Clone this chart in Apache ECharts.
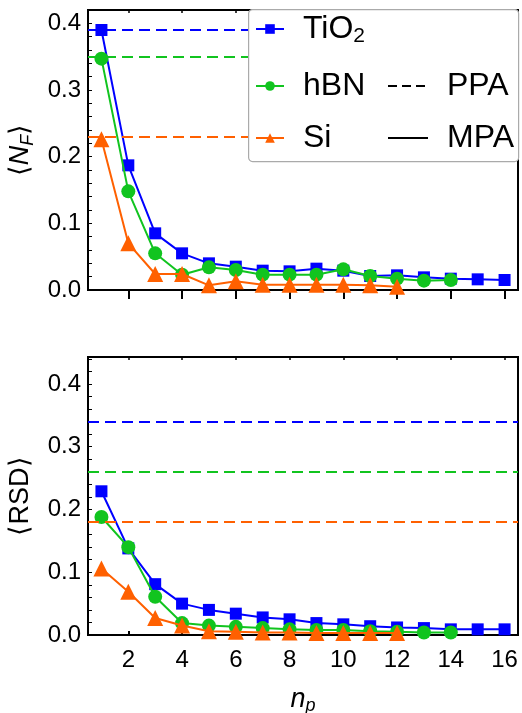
<!DOCTYPE html>
<html>
<head>
<meta charset="utf-8">
<script src="https://cdn.jsdelivr.net/npm/echarts@6/dist/echarts.min.js"></script>
<style>
html,body{margin:0;padding:0;background:#fff;}
#chart{width:522px;height:713px;}
</style>
</head>
<body>
<div id="chart"></div>
<script>
// ---- data ----
var materials = ['TiO2', 'hBN', 'Si'];
var colors = ['#0000ff', '#11c41f', '#ff6000'];
var npValues = [1, 2, 3, 4, 5, 6, 7, 8, 9, 10, 11, 12, 13, 14, 15, 16];
var xTicks = [2, 4, 6, 8, 10, 12, 14, 16];
var yTicks = [0, 0.1, 0.2, 0.3, 0.4];

// <N_F>, MPA
var nfTiO2 = [0.39, 0.187, 0.085, 0.055, 0.040, 0.035, 0.029, 0.028, 0.032, 0.029, 0.021, 0.022, 0.019, 0.017, 0.016, 0.015];
var nfHBN  = [0.347, 0.148, 0.055, 0.023, 0.034, 0.030, 0.023, 0.023, 0.023, 0.031, 0.021, 0.017, 0.014, 0.015];
var nfSi   = [0.226, 0.070, 0.024, 0.024, 0.007, 0.013, 0.008, 0.008, 0.008, 0.008, 0.007, 0.005];
// <N_F>, PPA
var nfPPA = [0.390, 0.348, 0.226];

// <RSD>, MPA
var rsdTiO2 = [0.229, 0.138, 0.081, 0.050, 0.040, 0.034, 0.028, 0.025, 0.019, 0.017, 0.014, 0.012, 0.011, 0.009, 0.009, 0.009];
var rsdHBN  = [0.188, 0.140, 0.061, 0.019, 0.015, 0.013, 0.011, 0.009, 0.008, 0.008, 0.006, 0.005, 0.004, 0.004];
var rsdSi   = [0.106, 0.069, 0.027, 0.015, 0.006, 0.005, 0.004, 0.004, 0.003, 0.003, 0.003, 0.003];
// <RSD>, PPA
var rsdPPA = [0.337, 0.261, 0.180];

// ---- build ----
var FONT = 'Liberation Sans, Arial, sans-serif';
var symbols = ['rect', 'circle', 'triangle'];
var symbolSizes = [12, 14, 16];
var nfSeries = [nfTiO2, nfHBN, nfSi];
var rsdSeries = [rsdTiO2, rsdHBN, rsdSi];

function pairs(vals) {
  return vals.map(function (v, i) { return [npValues[i], v]; });
}

var minorTicks = [];
for (var k = 0; k <= 22; k++) minorTicks.push(+(k * 0.02).toFixed(2));

function xAxisDef(gridIndex, showLabels, tickInside, tickLen) {
  return {
    type: 'value', gridIndex: gridIndex, min: 0.5, max: 16.5,
    axisLine: { show: false },
    splitLine: { show: false },
    axisTick: { show: true, inside: tickInside, length: tickLen, customValues: xTicks,
      lineStyle: { color: '#000', width: 2 } },
    axisLabel: { show: showLabels, customValues: xTicks, margin: 13,
      color: '#000', fontSize: 24, fontFamily: FONT }
  };
}
function xTopDef(gridIndex) {
  return {
    type: 'value', gridIndex: gridIndex, position: 'top', min: 0.5, max: 16.5,
    axisLine: { show: false }, splitLine: { show: false },
    axisTick: { show: true, inside: true, length: 3, customValues: xTicks,
      lineStyle: { color: '#000', width: 1.5 } },
    axisLabel: { show: false }
  };
}
var nameRich = {
  b: { fontSize: 27, fontFamily: FONT, color: '#000', lineHeight: 32 },
  i: { fontSize: 27, fontFamily: FONT, fontStyle: 'italic', color: '#000', lineHeight: 32 },
  s: { fontSize: 18, fontFamily: FONT, fontStyle: 'italic', color: '#000', lineHeight: 12, verticalAlign: 'bottom' }
};
function yAxisDef(gridIndex, max, name) {
  return {
    type: 'value', gridIndex: gridIndex, min: 0, max: max,
    name: name, nameLocation: 'middle', nameRotate: 90, nameGap: 51,
    nameTextStyle: { rich: nameRich },
    axisLine: { show: false },
    splitLine: { show: false },
    axisTick: { show: true, inside: true, length: 4, customValues: minorTicks.filter(function (v) { return v <= max; }),
      lineStyle: { color: '#000', width: 1 } },
    axisLabel: { customValues: yTicks, margin: 7, color: '#000', fontSize: 24, fontFamily: FONT,
      formatter: function (v) { return v.toFixed(1); } }
  };
}

var series = [];
[nfSeries, rsdSeries].forEach(function (set, panel) {
  var ppa = panel === 0 ? nfPPA : rsdPPA;
  set.forEach(function (vals, m) {
    series.push({
      name: materials[m], type: 'line', xAxisIndex: panel * 2, yAxisIndex: panel,
      data: pairs(vals), symbol: symbols[m], symbolSize: symbolSizes[m],
      color: colors[m], lineStyle: { width: 2, color: colors[m] },
      itemStyle: { color: colors[m] },
      z: 3 + m, animation: false, silent: true,
      markLine: {
        silent: true, symbol: 'none', animation: false,
        label: { show: false },
        lineStyle: { type: [11, 6], width: 2, color: colors[m] },
        data: [{ yAxis: ppa[m] }]
      }
    });
  });
});
// style-only series for the legend
series.push({ name: 'PPA', type: 'line', data: [], symbol: 'none', color: '#000',
  lineStyle: { type: [9, 5], width: 2.5, color: '#000' } });
series.push({ name: 'MPA', type: 'line', data: [], symbol: 'none', color: '#000',
  lineStyle: { type: 'solid', width: 2.5, color: '#000' } });

var legendRich = {
  a: { fontSize: 32, fontFamily: FONT, color: '#000', lineHeight: 36 },
  s: { fontSize: 21, fontFamily: FONT, color: '#000', lineHeight: 12, verticalAlign: 'bottom' }
};
function legendItem(name, left, top, w, hideSymbol) {
  var l = {
    data: [name], left: left, top: top, orient: 'vertical', selectedMode: false,
    itemWidth: w, itemHeight: 12, itemGap: 0, padding: 0, z: 30,
    formatter: function (n) { return n === 'TiO2' ? '{a|TiO}{s|2}' : '{a|' + n + '}'; },
    textStyle: { rich: legendRich, padding: [0, 0, 0, 14] }
  };
  if (hideSymbol) l.itemStyle = { opacity: 0 };
  return l;
}

var option = {
  backgroundColor: '#fff',
  animation: false,
  grid: [
    { left: 88, right: 4, top: 10, height: 280, show: true, borderColor: '#000', borderWidth: 2,
      backgroundColor: 'transparent', containLabel: false, outerBoundsMode: 'none' },
    { left: 88, right: 4, top: 357, height: 278, show: true, borderColor: '#000', borderWidth: 2,
      backgroundColor: 'transparent', containLabel: false, outerBoundsMode: 'none' }
  ],
  xAxis: [
    xAxisDef(0, false, false, 9), xTopDef(0),
    Object.assign(xAxisDef(1, true, true, 4), {
      name: '{i|n}{s|p}', nameLocation: 'middle', nameGap: 48,
      nameTextStyle: { rich: nameRich }
    }),
    xTopDef(1)
  ],
  yAxis: [
    yAxisDef(0, 0.42, '{b|⟨}{i|N}{s|F}{b|⟩}'),
    yAxisDef(1, 0.443, '{b|⟨RSD⟩}')
  ],
  legend: [
    legendItem('TiO2', 255, 13, 28, false),
    legendItem('hBN', 255, 70, 28, false),
    legendItem('Si', 255, 122, 28, false),
    legendItem('PPA', 387, 70, 40, true),
    legendItem('MPA', 387, 122, 40, true)
  ],
  graphic: [{
    type: 'rect', left: 248, top: 9, z: 20,
    shape: { width: 270, height: 152, r: 4 },
    style: { fill: '#fff', stroke: '#aaa', lineWidth: 1.2 }
  }],
  series: series
};

var chart = echarts.init(document.getElementById('chart'), null, { renderer: 'canvas' });
chart.setOption(option);
</script>
</body>
</html>
